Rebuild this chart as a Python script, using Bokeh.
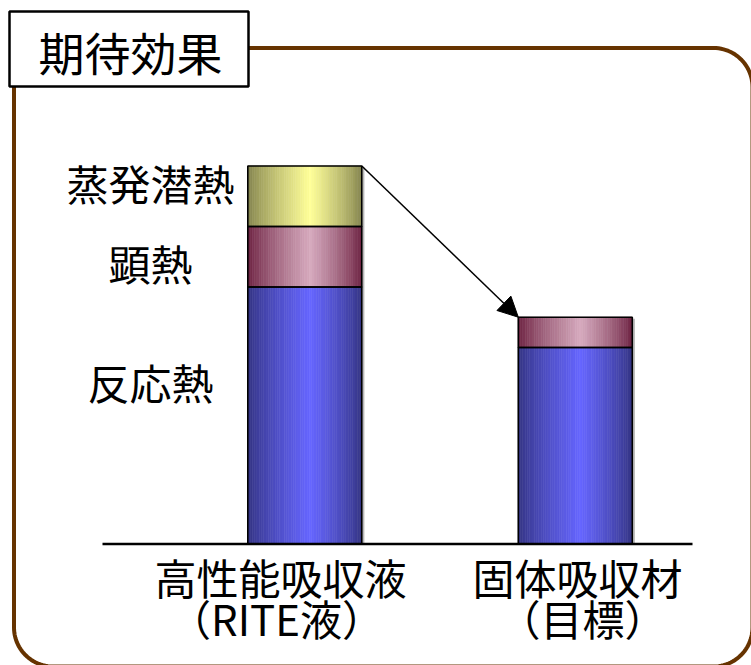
import math
from bokeh.plotting import figure
from bokeh.models import Range1d, BoxAnnotation, Label, Arrow, NormalHead, ColumnDataSource
from bokeh.embed import file_html
from bokeh.resources import INLINE

# ---- data ----
cat_line1 = ["高性能吸収液", "固体吸収材"]
cat_line2 = ["（RITE液）", "（目標）"]
series_names = ["反応熱", "顕熱", "蒸発潜熱"]
reaction_heat = [68, 52]
sensible_heat = [16, 8]
latent_heat = [16, 0]
title_text = "期待効果"

# ---- layout helpers (picture pixels -> data) ----
W, H = 751, 665
X_PX = 270.5
Y_PX = 3.78
def dx(px):
    return 1 + (px - 304.3) / X_PX
def dy(py):
    return (543.5 - py) / Y_PX

p = figure(width=W, height=H, output_backend="svg", toolbar_location=None,
           x_range=Range1d(dx(0), dx(W)), y_range=Range1d(dy(H), dy(0)),
           min_border=0, title=None, outline_line_color=None,
           background_fill_color="white", border_fill_color="white")
p.xaxis.visible = False
p.yaxis.visible = False
p.grid.visible = False

FONT = "Noto Sans CJK JP"
bar_w = 114 / X_PX
xs = [1, 2]

palette = {
    "反応熱": ((0x33, 0x33, 0x80), (0x66, 0x66, 0xFF)),
    "顕熱": ((0x6B, 0x1F, 0x3F), (0xD6, 0xAA, 0xBE)),
    "蒸発潜熱": ((0x80, 0x80, 0x4C), (0xFF, 0xFF, 0x99)),
}

def shade(dark, bright, t):
    peak = 0.55
    if t <= peak:
        f = t / peak
    else:
        f = (1 - t) / (1 - peak)
    f = max(0.0, min(1.0, f)) ** 0.8
    c = [int(round(d + (b - d) * f)) for d, b in zip(dark, bright)]
    return "#%02x%02x%02x" % tuple(c)

N = 50
strips = dict(left=[], right=[], bottom=[], top=[], color=[])
outl = dict(left=[], right=[], bottom=[], top=[])
shadow = dict(left=[], right=[], bottom=[], top=[])
for i, xc in enumerate(xs):
    base = 0
    for name, vals in zip(series_names, [reaction_heat, sensible_heat, latent_heat]):
        v = vals[i]
        if v <= 0:
            continue
        dark, bright = palette[name]
        l0 = xc - bar_w / 2
        for k in range(N):
            t = (k + 0.5) / N
            strips["left"].append(l0 + k * bar_w / N)
            strips["right"].append(l0 + (k + 1) * bar_w / N)
            strips["bottom"].append(base)
            strips["top"].append(base + v)
            strips["color"].append(shade(dark, bright, t))
        outl["left"].append(l0)
        outl["right"].append(l0 + bar_w)
        outl["bottom"].append(base)
        outl["top"].append(base + v)
        base += v
    shadow["left"].append(xc + bar_w / 2 + 0.8 / X_PX)
    shadow["right"].append(xc + bar_w / 2 + 2.6 / X_PX)
    shadow["bottom"].append(0)
    shadow["top"].append(base - 1.5 / Y_PX)

p.quad(left="left", right="right", bottom="bottom", top="top", source=ColumnDataSource(shadow),
       fill_color="#b8b8b8", line_color=None)
p.quad(left="left", right="right", bottom="bottom", top="top", source=ColumnDataSource(strips),
       fill_color="color", line_color="color", line_width=0.6)
p.quad(left="left", right="right", bottom="bottom", top="top", source=ColumnDataSource(outl),
       fill_color=None, line_color="black", line_width=1.6)

# baseline
p.line(x=[dx(102), dx(692)], y=[0, 0], line_color="black", line_width=2.6)

# arrow from top of bar 1 to top of bar 2
tot = [r + s + l for r, s, l in zip(reaction_heat, sensible_heat, latent_heat)]
p.add_layout(Arrow(x_start=xs[0] + bar_w / 2, y_start=tot[0],
                   x_end=xs[1] - bar_w / 2, y_end=tot[1],
                   line_color="black", line_width=1.5,
                   end=NormalHead(size=20, fill_color="black", line_color="black")))

# frame with rounded corners (drawn as a path in picture pixels)
L, R, T, B, RAD = 13.5, 752, 47.5, 666, 39
fx, fy = [], []
def arc(cx, cy, a0, a1, n=24):
    for j in range(n + 1):
        a = math.radians(a0 + (a1 - a0) * j / n)
        fx.append(dx(cx + RAD * math.cos(a)))
        fy.append(dy(cy - RAD * math.sin(a)))
arc(L + RAD, T + RAD, 180, 90)
arc(R - RAD, T + RAD, 90, 0)
arc(R - RAD, B - RAD, 0, -90)
arc(L + RAD, B - RAD, -90, -180)
fx.append(fx[0]); fy.append(fy[0])
p.line(x=fx, y=fy, line_color="#663300", line_width=4)

# title box
p.add_layout(BoxAnnotation(left=dx(9), right=dx(248), top=dy(11), bottom=dy(86),
                           fill_color="white", fill_alpha=1.0, line_color="black",
                           line_width=2.5, line_alpha=1.0))
p.add_layout(Label(x=dx(130), y=dy(50), text=title_text, text_font=FONT, text_font_size="46px",
                   text_align="center", text_baseline="middle", text_color="black"))

# series labels
for name, py in zip(series_names, [381, 262, 182]):
    p.add_layout(Label(x=dx(150), y=dy(py), text=name, text_font=FONT, text_font_size="42px",
                       text_align="center", text_baseline="middle", text_color="black"))

# category labels
for t1, t2, c1, c2 in zip(cat_line1, cat_line2, [280, 577], [276, 582]):
    p.add_layout(Label(x=dx(c1), y=dy(576), text=t1, text_font=FONT, text_font_size="42px",
                       text_align="center", text_baseline="middle", text_color="black"))
    p.add_layout(Label(x=dx(c2), y=dy(617), text=t2, text_font=FONT, text_font_size="42px",
                       text_align="center", text_baseline="middle", text_color="black"))

open("out.html", "w").write(file_html(p, INLINE))
